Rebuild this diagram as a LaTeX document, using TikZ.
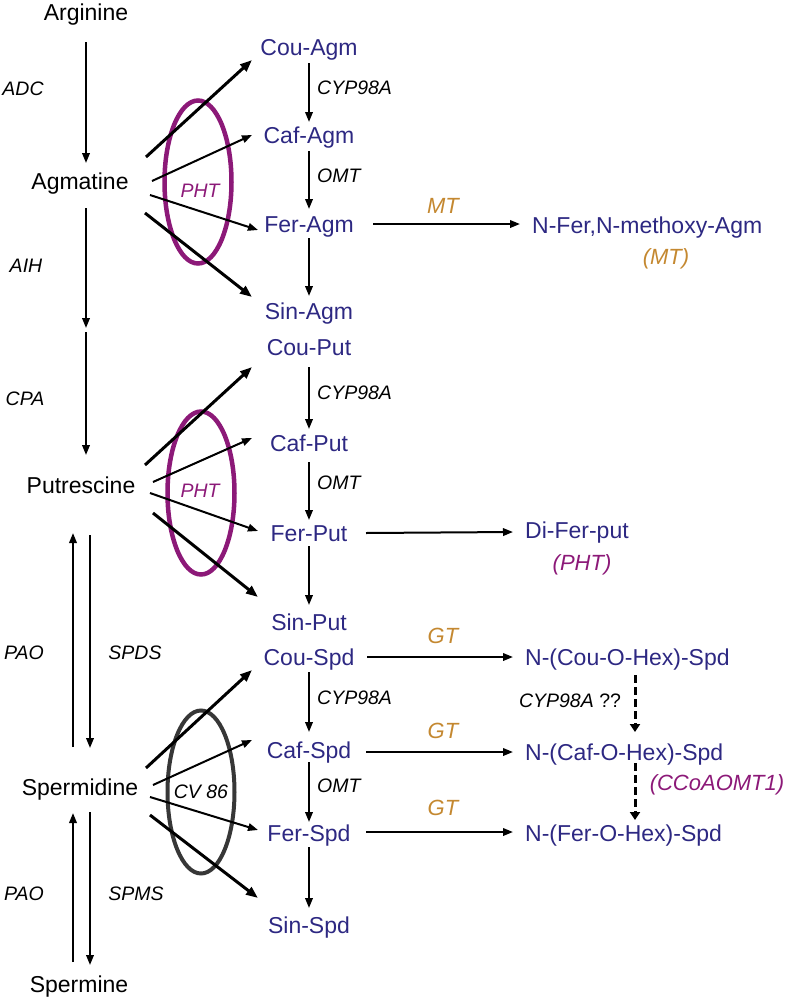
\documentclass[tikz,border=0pt]{standalone}
\usepackage{fontspec}
\setmainfont{Liberation Sans}
\usetikzlibrary{arrows.meta,calc,shapes.geometric}
\definecolor{pblue}{RGB}{45,40,130}
\definecolor{porange}{RGB}{196,136,48}
\definecolor{ppurple}{RGB}{140,25,120}
\definecolor{pgrey}{RGB}{55,55,55}
\begin{document}
\begin{tikzpicture}[x=1pt,y=-1pt,
  mainnode/.style={font=\fontsize{23}{27}\selectfont, anchor=base, inner sep=0pt},
  prod/.style={mainnode, text=pblue},
  enz/.style={font=\fontsize{19.5}{23}\selectfont\itshape, anchor=base, inner sep=0pt},
  oenz/.style={font=\fontsize{22}{26}\selectfont\itshape, text=porange, anchor=base, inner sep=0pt},
  penz/.style={font=\fontsize{22}{26}\selectfont\itshape, text=ppurple, anchor=base, inner sep=0pt},
  arr/.style={-{Triangle[length=10pt,width=7.5pt]}, line width=2pt},
  thickarr/.style={-{Triangle[length=12pt,width=9pt]}, line width=3pt},
  dasharr/.style={-{Triangle[length=8pt,width=10pt]}, line width=3pt, dash pattern=on 8pt off 4pt},
  ring/.style={ellipse, draw, inner sep=0pt, minimum width=67pt, minimum height=163pt}]
\useasboundingbox (0,0) rectangle (788,999);

% rings
\node[ring, draw=ppurple, line width=4.5pt] (ring1) at (198,182) {};
\node[ring, draw=ppurple, line width=4.5pt] (ring2) at (201,493) {};
\node[ring, draw=pgrey, line width=4pt] (ring3) at (201,792) {};
\node[enz, text=ppurple] (pht1) at (200,197) {PHT};
\node[enz, text=ppurple] (pht2) at (200,497) {PHT};
\node[enz] (cv86) at (201,798) {CV 86};

% main column
\node[mainnode] (arg) at (86,20) {Arginine};
\node[mainnode] (agm) at (80,189) {Agmatine};
\node[mainnode] (put) at (81,493) {Putrescine};
\node[mainnode] (spd) at (80,795) {Spermidine};
\node[mainnode] (spm) at (79,992) {Spermine};
\coordinate (mid1) at (86,328);
\coordinate (mid2) at (86,332);

\node[enz] (adc) at (23,95) {ADC};
\node[enz] (aih) at (26,272) {AIH};
\node[enz] (cpa) at (25,405) {CPA};
\node[enz] (pao1) at (24,659) {PAO};
\node[enz] (spds) at (135,659) {SPDS};
\node[enz] (pao2) at (24,900) {PAO};
\node[enz] (spms) at (136,900) {SPMS};

\draw[arr] ($(arg.base)+(0,22)$) -- ($(agm.base)+(6,-26)$);
\draw[arr] ($(agm.base)+(6,19)$) -- (mid1);
\draw[arr] (mid2) -- ($(put.base)+(5,-38)$);
\draw[arr] ($(put.base)+(9,42)$) -- ($(spd.base)+(10,-47)$);
\draw[arr] ($(spd.base)+(-7,-48)$) -- ($(put.base)+(-8,40)$);
\draw[arr] ($(spd.base)+(10,17)$) -- ($(spm.base)+(11,-27)$);
\draw[arr] ($(spm.base)+(-6,-30)$) -- ($(spd.base)+(-7,18)$);

% Agm products
\node[prod] (couagm) at (309,55) {Cou-Agm};
\node[prod] (cafagm) at (309,143) {Caf-Agm};
\node[prod] (feragm) at (309,232) {Fer-Agm};
\node[prod] (sinagm) at (309,319) {Sin-Agm};
\node[enz, anchor=base west] (cyp1) at (317,94) {CYP98A};
\node[enz, anchor=base west] (omt1) at (317,182) {OMT};
\draw[arr] ($(couagm.base)+(0,8)$) -- ($(cafagm.base)+(0,-21)$);
\draw[arr] ($(cafagm.base)+(0,8)$) -- ($(feragm.base)+(0,-23)$);
\draw[arr] ($(feragm.base)+(0,6)$) -- ($(sinagm.base)+(0,-23)$);
\draw[thickarr] ($(agm.base)+(66,-32)$) -- ($(couagm.base)+(-57,5)$);
\draw[arr] ($(agm.base)+(72,-8)$) -- ($(cafagm.base)+(-57,-8)$);
\draw[arr] ($(agm.base)+(70,6)$) -- ($(feragm.base)+(-51,-2)$);
\draw[thickarr] ($(agm.base)+(65,24)$) -- ($(sinagm.base)+(-57,-22)$);

\node[prod, anchor=base west] (nfer) at (532,233) {N-Fer,N-methoxy-Agm};
\node[oenz] (mt) at (443,213) {MT};
\node[oenz] (mt2) at (666,264) {(MT)};
\draw[arr] ($(feragm.base)+(64,-8)$) -- ($(nfer.base west)+(-12,-9)$);

% Put products
\node[prod] (couput) at (309,355) {Cou-Put};
\node[prod] (cafput) at (309,451) {Caf-Put};
\node[prod] (ferput) at (309,541) {Fer-Put};
\node[prod] (sinput) at (309,630) {Sin-Put};
\node[enz, anchor=base west] (cyp2) at (317,399) {CYP98A};
\node[enz, anchor=base west] (omt2) at (317,489) {OMT};
\draw[arr] ($(couput.base)+(0,12)$) -- ($(cafput.base)+(0,-22)$);
\draw[arr] ($(cafput.base)+(0,11)$) -- ($(ferput.base)+(0,-21)$);
\draw[arr] ($(ferput.base)+(0,5)$) -- ($(sinput.base)+(0,-25)$);
\draw[thickarr] ($(put.base)+(64,-28)$) -- ($(couput.base)+(-57,12)$);
\draw[arr] ($(put.base)+(72,-11)$) -- ($(cafput.base)+(-57,-13)$);
\draw[arr] ($(put.base)+(69,0)$) -- ($(ferput.base)+(-51,-10)$);
\draw[thickarr] ($(put.base)+(72,20)$) -- ($(sinput.base)+(-51,-33)$);

\node[prod, anchor=base west] (difer) at (525,538) {Di-Fer-put};
\node[penz] (pht3) at (582,570) {(PHT)};
\draw[arr] ($(ferput.base)+(57,-8)$) -- ($(difer.base west)+(-12,-6)$);

% Spd products
\node[prod] (couspd) at (309,665) {Cou-Spd};
\node[prod] (cafspd) at (309,758) {Caf-Spd};
\node[prod] (ferspd) at (309,841) {Fer-Spd};
\node[prod] (sinspd) at (309,933) {Sin-Spd};
\node[enz, anchor=base west] (cyp3) at (317,704) {CYP98A};
\node[enz, anchor=base west] (omt3) at (317,792) {OMT};
\draw[arr] ($(couspd.base)+(0,7)$) -- ($(cafspd.base)+(0,-26)$);
\draw[arr] ($(cafspd.base)+(0,4)$) -- ($(ferspd.base)+(0,-19)$);
\draw[arr] ($(ferspd.base)+(0,6)$) -- ($(sinspd.base)+(0,-25)$);
\draw[thickarr] ($(spd.base)+(66,-27)$) -- ($(couspd.base)+(-57,5)$);
\draw[arr] ($(spd.base)+(73,-10)$) -- ($(cafspd.base)+(-57,-18)$);
\draw[arr] ($(spd.base)+(70,2)$) -- ($(ferspd.base)+(-51,-11)$);
\draw[thickarr] ($(spd.base)+(70,20)$) -- ($(sinspd.base)+(-51,-35)$);

\node[prod, anchor=base west] (ncou) at (525,665) {N-(Cou-O-Hex)-Spd};
\node[prod, anchor=base west] (ncaf) at (525,760) {N-(Caf-O-Hex)-Spd};
\node[prod, anchor=base west] (nfer2) at (525,841) {N-(Fer-O-Hex)-Spd};
\node[oenz] (gt1) at (443,643) {GT};
\node[oenz] (gt2) at (443,738) {GT};
\node[oenz] (gt3) at (443,815) {GT};
\draw[arr] ($(couspd.base)+(58,-8)$) -- ($(ncou.base west)+(-12,-8)$);
\draw[arr] ($(cafspd.base)+(57,-6)$) -- ($(ncaf.base west)+(-12,-8)$);
\draw[arr] ($(ferspd.base)+(57,-9)$) -- ($(nfer2.base west)+(-12,-9)$);

\node[enz] (cyp4) at (570,707) {CYP98A \upshape ??};
\node[penz] (ccoa) at (717,790) {(CCoAOMT1)};
\draw[dasharr] ($(ncou.base west)+(110,10)$) -- ($(ncaf.base west)+(110,-28)$);
\draw[dasharr] ($(ncaf.base west)+(110,3)$) -- ($(nfer2.base west)+(110,-21)$);
\end{tikzpicture}
\end{document}
